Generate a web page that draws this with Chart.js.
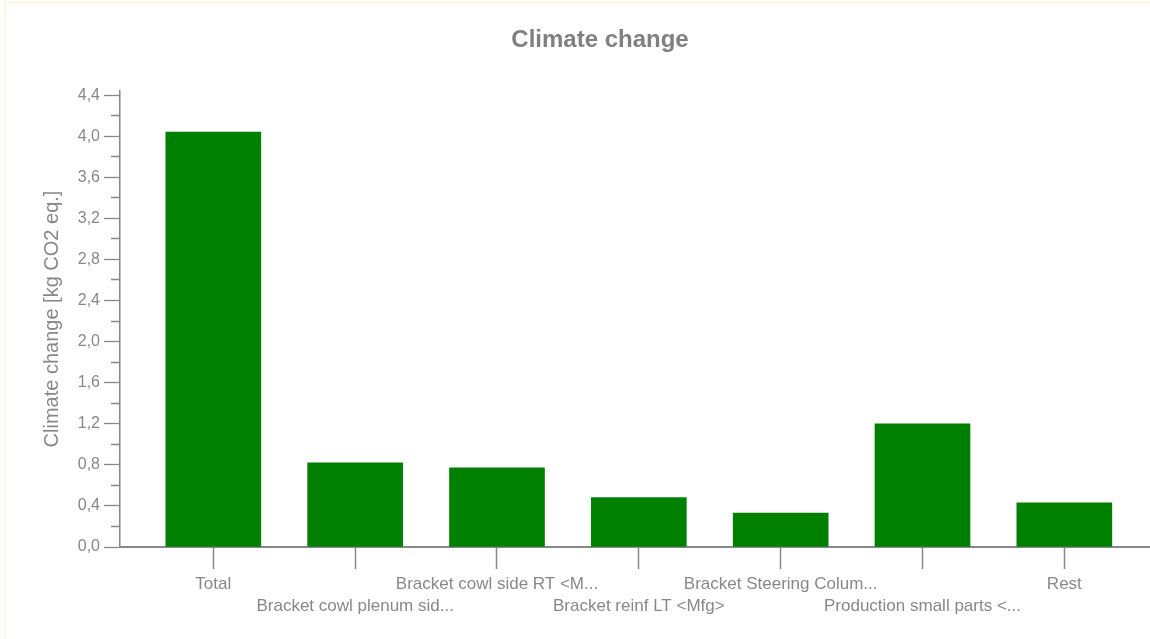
<!DOCTYPE html>
<html>
<head>
<meta charset="utf-8">
<title>Climate change</title>
<script src="https://cdn.jsdelivr.net/npm/chart.js@4/dist/chart.umd.min.js"></script>
<style>
  html, body { margin: 0; padding: 0; background: #ffffff; }
  #wrap { position: relative; width: 1150px; height: 639px; overflow: hidden; }
  #wrap canvas { position: absolute; left: 0; top: 0; }
  #frame {
    position: absolute; left: 5px; top: 2px; right: -2px; bottom: -2px;
    border-left: 1px solid #fff4d2; border-top: 1px solid #fff4d2;
    pointer-events: none;
  }
</style>
</head>
<body>
<div id="wrap">
  <canvas id="chart" width="1150" height="639"></canvas>
  <div id="frame"></div>
</div>
<script>
// Chart text
const chartTitle = 'Climate change';
const yAxisTitle = 'Climate change [kg CO2 eq.]';

// Categories (process contributions) and their values in kg CO2 eq.
const categories = [
  'Total',
  'Bracket cowl plenum sid...',
  'Bracket cowl side RT <M...',
  'Bracket reinf LT <Mfg>',
  'Bracket Steering Colum...',
  'Production small parts <...',
  'Rest'
];
const values = [4.04, 0.82, 0.77, 0.48, 0.33, 1.20, 0.43];

// Y axis ticks: labelled major ticks and short unlabelled minor ticks
const yMajorTicks = [0, 0.4, 0.8, 1.2, 1.6, 2.0, 2.4, 2.8, 3.2, 3.6, 4.0, 4.4];
const yMinorTicks = [0.2, 0.6, 1.0, 1.4, 1.8, 2.2, 2.6, 3.0, 3.4, 3.8, 4.2];

const FONT = "'Liberation Sans', Arial, sans-serif";
const GREY = '#888888';
const BAR_GREEN = '#008000';

const isMajor = v => yMajorTicks.some(m => Math.abs(m - v) < 1e-6);
const allYTicks = yMajorTicks.concat(yMinorTicks).sort((a, b) => a - b);

// Draws the bold heading above the plot
const headingPlugin = {
  id: 'heading',
  afterDraw(chart) {
    const ctx = chart.ctx;
    ctx.save();
    ctx.font = 'bold 24px ' + FONT;
    ctx.fillStyle = '#808080';
    ctx.textAlign = 'center';
    ctx.textBaseline = 'alphabetic';
    ctx.fillText(chartTitle, 600, 47);
    ctx.restore();
  }
};

new Chart(document.getElementById('chart'), {
  type: 'bar',
  data: {
    datasets: [{
      data: categories.map((c, i) => ({ x: i, y: values[i] })),
      backgroundColor: BAR_GREEN,
      borderWidth: 0,
      barThickness: 95
    }]
  },
  options: {
    responsive: false,
    animation: false,
    layout: { padding: { top: 91, left: 0, right: 0, bottom: 0 } },
    plugins: {
      legend: { display: false },
      tooltip: { enabled: false },
      title: { display: false }
    },
    scales: {
      x: {
        type: 'linear',
        min: -0.658,
        max: 6.604,
        offset: false,
        afterBuildTicks: scale => { scale.ticks = categories.map((c, i) => ({ value: i })); },
        afterFit: scale => { scale.height = 92; },
        grid: {
          offset: false,
          drawOnChartArea: false,
          drawTicks: true,
          tickLength: 22,
          color: GREY,
          tickWidth: 1.5
        },
        border: { display: true, color: GREY, width: 2 },
        ticks: {
          autoSkip: false,
          maxRotation: 0,
          minRotation: 0,
          padding: 4,
          color: GREY,
          font: { family: FONT, size: 17, lineHeight: 1.3 },
          // alternate labels drop to a second row so long names do not collide
          callback: v => {
            const name = categories[Math.round(v)];
            if (name === undefined) return '';
            return Math.round(v) % 2 === 1 ? ['', name] : name;
          }
        }
      },
      y: {
        min: 0,
        max: 4.44,
        afterBuildTicks: scale => { scale.ticks = allYTicks.map(v => ({ value: v })); },
        afterFit: scale => { scale.width = 120; },
        grid: {
          drawOnChartArea: false,
          drawTicks: true,
          tickLength: 16,
          color: GREY,
          tickWidth: 1.3,
          tickBorderDash: c => (c.tick && isMajor(c.tick.value)) ? [] : [0, 7, 30, 0]
        },
        border: { display: true, color: GREY, width: 1.5 },
        ticks: {
          autoSkip: false,
          padding: 4,
          color: GREY,
          font: { family: FONT, size: 16 },
          callback: v => isMajor(v) ? v.toFixed(1).replace('.', ',') : ''
        },
        title: {
          display: true,
          text: yAxisTitle,
          color: GREY,
          font: { family: FONT, size: 20 },
          padding: { top: 40, bottom: 0 }
        }
      }
    }
  },
  plugins: [headingPlugin]
});
</script>
</body>
</html>
